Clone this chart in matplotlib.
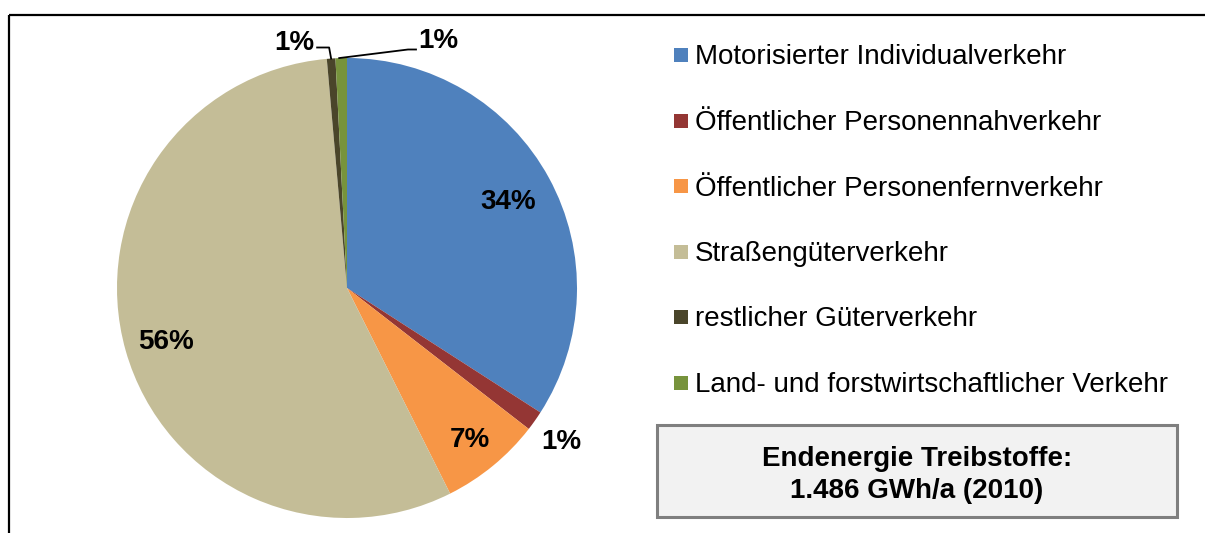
import numpy as np
import matplotlib
matplotlib.use("Agg")
import matplotlib.pyplot as plt
from matplotlib.patches import Rectangle

categories = ["Motorisierter Individualverkehr",
              "Öffentlicher Personennahverkehr",
              "Öffentlicher Personenfernverkehr",
              "Straßengüterverkehr",
              "restlicher Güterverkehr",
              "Land- und forstwirtschaftlicher Verkehr"]
shares = [34.1, 1.4, 7.1, 56.0, 0.6, 0.8]
pct_labels = ["34%", "1%", "7%", "56%", "1%", "1%"]
colors = ["#4F81BD", "#943634", "#F79646", "#C4BD97", "#4A452A", "#77933C"]
box_lines = ["Endenergie Treibstoffe:", "1.486 GWh/a (2010)"]

plt.rcParams['font.family'] = ['Liberation Sans', 'DejaVu Sans']

W, H = 1205, 533
fig = plt.figure(figsize=(W / 100, H / 100), dpi=100)
ax = fig.add_axes([0, 0, 1, 1])

cx, cy, R = 347, H - 288, 230
wedges, _ = ax.pie(shares, colors=colors, startangle=90, counterclock=False,
                   center=(cx, cy), radius=R, wedgeprops=dict(linewidth=0))
ax.set_xlim(0, W)
ax.set_ylim(0, H)
ax.set_aspect('auto')
ax.axis('off')

fs = 20
toff = 2.5  # text vertical nudge (pixels)

# percentage labels
cum = np.cumsum([0] + shares[:-1])
total = sum(shares)
rfac = [0.80, 1.14, 0.84, 0.82, None, None]
for i, (s, c0) in enumerate(zip(shares, cum)):
    mid = (c0 + s / 2) / total * 360.0
    th = np.deg2rad(90 - mid)
    if rfac[i] is not None:
        x = cx + rfac[i] * R * np.cos(th)
        y = cy + rfac[i] * R * np.sin(th)
        ax.text(x, y - toff, pct_labels[i], ha='center', va='center',
                fontsize=fs, fontweight='bold', color='black')

# small slices with leader lines
# dark slice
i = 4
mid = (cum[i] + shares[i] / 2) / total * 360.0
th = np.deg2rad(90 - mid)
px, py = cx + R * np.cos(th), cy + R * np.sin(th)
ex, ey = px - 2, H - 47.5
ax.plot([px, ex, ex - 12], [py, ey, ey], color='black', lw=1.3)
ax.text(ex - 15, ey + 7 - toff, pct_labels[i], ha='right', va='center',
        fontsize=fs, fontweight='bold')
# green slice
i = 5
mid = (cum[i] + shares[i] / 2) / total * 360.0
th = np.deg2rad(90 - mid)
px, py = cx + R * np.cos(th), cy + R * np.sin(th)
ex, ey = 408, H - 49.5
ax.plot([px - 2, ex, ex + 8], [py, ey, ey], color='black', lw=1.3)
ax.text(ex + 10, ey + 11 - toff, pct_labels[i], ha='left', va='center',
        fontsize=fs, fontweight='bold')

# legend
ly0, dy = 55, 65.5
for k, (lab, col) in enumerate(zip(categories, colors)):
    yy = H - (ly0 + k * dy)
    ax.add_patch(Rectangle((674, yy - 7), 14, 14, facecolor=col, edgecolor='none'))
    ax.text(695, yy - toff, lab, ha='left', va='center', fontsize=fs, color='black')

# info box
ax.add_patch(Rectangle((657, H - 517), 520, 92, facecolor='#F2F2F2',
                       edgecolor='#7F7F7F', linewidth=2.2))
ax.text(917, H - 456 - toff, box_lines[0], ha='center', va='center',
        fontsize=fs, fontweight='bold')
ax.text(917, H - 489 - toff, box_lines[1], ha='center', va='center',
        fontsize=fs, fontweight='bold')

# outer frame (top and left only visible)
ax.plot([8.5, W], [H - 14.5, H - 14.5], color='black', lw=1.6, solid_capstyle='butt')
ax.plot([8.5, 8.5], [0, H - 14.5], color='black', lw=1.6, solid_capstyle='butt')

fig.savefig("out.png", dpi=100)
